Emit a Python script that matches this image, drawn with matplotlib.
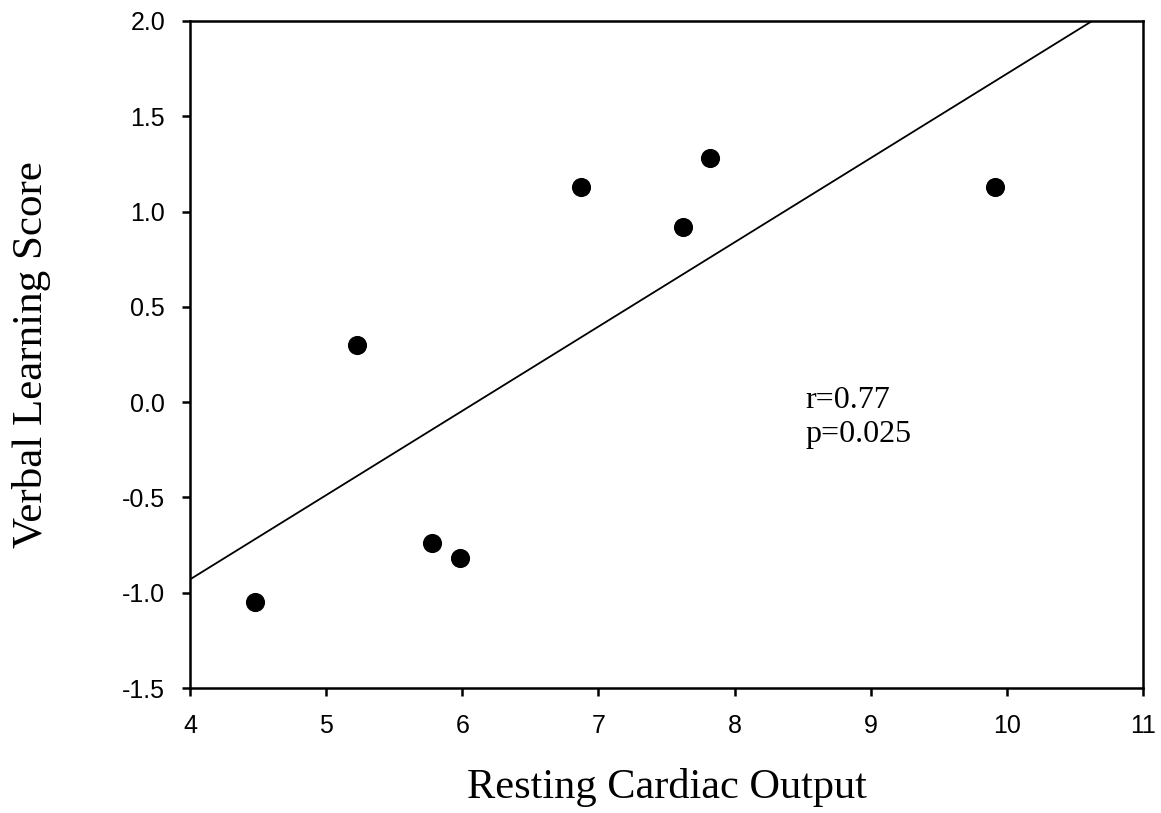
import numpy as np
import matplotlib
matplotlib.use("Agg")
import matplotlib.pyplot as plt

cardiac_output = [4.48, 5.23, 5.78, 5.98, 6.87, 7.62, 7.82, 9.91]
verbal_score = [-1.05, 0.30, -0.74, -0.82, 1.13, 0.92, 1.28, 1.13]
x_ticks = [4, 5, 6, 7, 8, 9, 10, 11]
y_ticks = [-1.5, -1.0, -0.5, 0.0, 0.5, 1.0, 1.5, 2.0]
y_tick_labels = ["-1.5", "-1.0", "-0.5", "0.0", "0.5", "1.0", "1.5", "2.0"]

fig = plt.figure(figsize=(11.61, 8.13), dpi=100)
ax = fig.add_axes([190/1161, 1-688/813, (1143-190)/1161, (688-21)/813])

slope, intercept = np.polyfit(cardiac_output, verbal_score, 1)
xs = np.array([4, 11])
ax.plot(xs, slope*xs + intercept, color="black", lw=1.3, zorder=2)
ax.scatter(cardiac_output, verbal_score, s=190, color="black", zorder=3, linewidths=0)

ax.set_xlim(4, 11)
ax.set_ylim(-1.5, 2.0)
ax.set_xticks(x_ticks)
ax.set_yticks(y_ticks)
ax.set_yticklabels(y_tick_labels)
for s in ax.spines.values():
    s.set_linewidth(1.8)
ax.tick_params(direction="out", length=6, width=1.8, labelsize=18)
ax.tick_params(axis="y", pad=12)
ax.tick_params(axis="x", pad=13)
for lab in ax.get_xticklabels() + ax.get_yticklabels():
    lab.set_fontfamily("Liberation Sans")

ax.set_xlabel("Resting Cardiac Output", fontfamily="Liberation Serif", fontsize=30.5, labelpad=21)
ax.set_ylabel("Verbal Learning Score", fontfamily="Liberation Serif", fontsize=31, labelpad=51)

ax.text(8.52, -0.08, "r=0.77\np=0.025", fontfamily="Liberation Serif", fontsize=23,
        ha="left", va="center", linespacing=1.25)

fig.savefig("out.png", dpi=100)
